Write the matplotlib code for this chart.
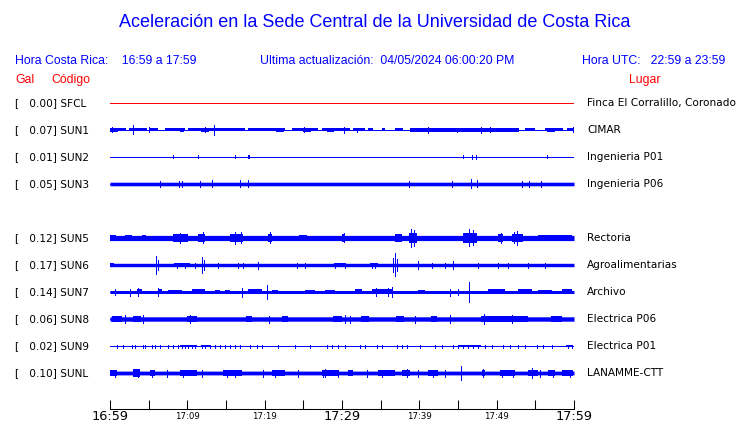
import numpy as np
import matplotlib
matplotlib.use("Agg")
import matplotlib.pyplot as plt
from matplotlib.transforms import blended_transform_factory

# estaciones (SUN4 no reporta, deja el hueco)
slots = ["SFCL", "SUN1", "SUN2", "SUN3", "SUN4", "SUN5", "SUN6", "SUN7", "SUN8", "SUN9", "SUNL"]
codes = ["SFCL", "SUN1", "SUN2", "SUN3", "SUN5", "SUN6", "SUN7", "SUN8", "SUN9", "SUNL"]
gal = [0.00, 0.07, 0.01, 0.05, 0.12, 0.17, 0.14, 0.06, 0.02, 0.10]
places = ["Finca El Corralillo, Coronado", "CIMAR", "Ingenieria P01", "Ingenieria P06",
          "Rectoria", "Agroalimentarias", "Archivo", "Electrica P06", "Electrica P01",
          "LANAMME-CTT"]

# envolventes (minutos desde 16:59, amplitud en px de pantalla)
base = {"SFCL": 0, "SUN1": 1.5, "SUN2": 0, "SUN3": 1.8, "SUN5": 2.6, "SUN6": 1.7,
        "SUN7": 1.5, "SUN8": 2.2, "SUN9": 0, "SUNL": 1.9}

gaps = {
    "SUN1": [(2.07, 2.46), (4.74, 5.17), (6.25, 7.03), (9.70, 10.13), (17.46, 17.80),
             (22.63, 23.49), (26.94, 27.37), (31.03, 31.47), (32.97, 33.41), (34.05, 35.13),
             (35.56, 36.85), (37.93, 38.79), (52.80, 53.66), (54.96, 56.25), (58.62, 59.05)],
}

bursts = {
    "SUN1": [(0, 1.0, 1.9), (9.0, 9.6, 1.9), (11.8, 12.8, 2.1), (21.5, 22.5, 1.9), (25.0, 26.0, 2.1),
             (28.0, 29.0, 1.9), (41.0, 42.0, 1.9), (43.0, 45.5, 1.9), (49.0, 50.0, 2.1), (56.5, 57.5, 1.9)],
    "SUN5": [(0, 0.8, 3.2), (2.0, 2.8, 3.2), (4.2, 4.6, 3.2), (8.19, 10.13, 3.6), (11.42, 12.28, 3.8),
             (15.52, 17.24, 4.2), (20.47, 20.91, 3.6), (24.5, 25.5, 3.2), (29.96, 30.39, 3.6),
             (36.85, 37.72, 3.6), (38.66, 39.66, 5.0), (45.69, 47.41, 4.6), (50.22, 50.86, 3.8),
             (51.94, 53.45, 3.6), (55.39, 59.70, 3.2)],
    "SUN6": [(0, 0.5, 2.2), (8.3, 10.3, 2.2), (29.0, 30.5, 2.2), (33.6, 34.6, 2.2)],
    "SUN7": [(3.45, 4.10, 2.5), (6.25, 6.68, 2.5), (7.54, 9.27, 2.3), (10.56, 12.28, 2.5),
             (13.58, 14.22, 2.3), (14.87, 15.52, 2.3), (17.89, 19.61, 2.5), (20.91, 21.77, 2.3),
             (25.22, 26.51, 2.3), (27.80, 29.09, 2.3), (31.68, 32.54, 2.5), (33.84, 36.42, 2.5),
             (39.87, 40.73, 2.3), (48.92, 51.08, 2.5), (52.80, 54.53, 2.5), (55.39, 57.11, 2.3),
             (58.41, 59.70, 2.5)],
    "SUN8": [(0.3, 1.5, 2.8), (3.0, 4.0, 3.0), (9.91, 11.21, 3.3), (17.6, 18.3, 2.7), (22.2, 23.0, 2.7),
             (28.8, 30.0, 3.0), (32.5, 33.5, 2.7), (37.0, 38.0, 2.7), (41.5, 42.3, 2.7),
             (48.0, 54.0, 2.8), (57.0, 58.5, 2.7)],
    "SUN9": [(9.0, 11.2, 1.2), (11.8, 13.0, 1.2), (45.0, 48.0, 1.2), (59.0, 59.8, 1.2)],
    "SUNL": [(0, 0.9, 2.6), (3.0, 3.88, 3.6), (5.17, 5.82, 2.6), (9.05, 11.21, 2.6), (14.66, 17.03, 2.6),
             (20.91, 22.63, 2.6), (27.37, 29.53, 2.6), (30.82, 31.47, 2.6), (34.70, 36.85, 2.6),
             (37.72, 38.79, 2.6), (41.16, 42.46, 2.6), (48.06, 48.49, 3.0), (50.43, 52.37, 2.6),
             (54.09, 55.39, 2.6), (56.68, 57.54, 2.6), (58.41, 59.92, 2.6)],
}

spikes = {
    "SUN1": [(0.22, 2.5), (3.02, 4.5), (5.0, 2.5), (12.3, 2.5), (13.49, 5.0), (25.04, 2.5), (30.26, 3.2),
             (32.0, 2.0), (41.08, 2.8), (44.83, 2.2), (47.93, 3.2), (49.14, 2.5), (59.83, 2.5)],
    "SUN2": [(8.19, 1.5), (11.42, 1.5), (16.21, 1.5), (17.80, 1.5), (18.02, 1.5), (45.69, 1.5),
             (46.77, 2.0), (47.33, 2.0), (56.55, 1.5)],
    "SUN3": [(6.51, 3.0), (8.92, 3.0), (9.35, 3.0), (11.60, 3.0), (13.23, 3.5), (16.85, 3.5), (17.89, 3.5),
             (38.71, 3.0), (44.18, 3.0), (46.68, 4.5), (47.41, 3.5), (53.23, 3.0), (54.22, 3.0), (55.69, 3.0)],
    "SUN5": [(9.0, 5.0), (12.0, 5.5), (16.2, 6.0), (17.0, 5.5), (20.7, 5.5), (30.2, 4.5), (38.9, 9.3),
             (39.3, 8.0), (46.4, 8.5), (46.9, 7.5), (50.5, 5.0), (52.3, 5.5), (52.6, 7.0)],
    "SUN6": [(5.95, 9.0), (6.2, 5.0), (11.94, 8.0), (12.2, 5.0), (36.6, 7.0), (36.85, 11.5), (37.1, 6.0),
             (19.18, 3.5), (39.87, 4.0), (44.40, 4.0), (8.62, 2.5), (9.70, 2.5), (10.99, 2.5),
             (13.92, 2.5), (16.59, 2.5), (17.24, 2.5), (24.14, 2.5), (25.22, 2.5), (29.09, 2.5),
             (30.39, 2.5), (33.84, 2.5), (34.27, 2.5), (41.59, 2.5), (43.32, 2.5), (47.63, 2.5),
             (50.22, 2.5), (51.51, 2.5), (54.09, 2.5), (56.25, 2.5)],
    "SUN7": [(20.26, 7.0), (46.42, 10.0), (0.65, 3.0), (2.59, 3.5), (3.6, 4.0), (6.25, 4.0), (17.03, 4.5),
             (35.99, 4.0), (36.42, 5.0), (43.97, 3.5), (45.0, 3.0), (34.4, 4.0)],
    "SUN8": [(4.31, 4.5), (10.3, 4.2), (30.39, 4.0), (48.36, 5.0), (2.0, 4.0), (20.5, 3.5), (31.0, 3.5),
             (39.5, 3.5), (44.0, 3.8), (52.0, 4.0)],
    "SUN9": [(t, 1.5) for t in [0.86, 1.72, 2.80, 3.23, 4.31, 4.53, 5.39, 5.82, 6.47, 7.54, 8.19, 8.84,
                                9.27, 9.70, 10.13, 10.56, 10.99, 11.85, 12.28, 12.93, 13.58, 14.22, 14.87,
                                15.52, 16.16, 16.81, 18.11, 18.97, 19.61, 21.77, 23.92, 25.86, 28.02,
                                28.66, 29.53, 30.39, 32.33, 32.97, 34.48, 35.13, 37.07, 37.72, 38.36,
                                40.09, 42.03, 42.89, 44.40, 45.04, 45.69, 46.34, 46.98, 47.63, 48.49,
                                49.35, 50.86, 51.72, 52.80, 53.66, 55.17, 56.03, 57.11, 59.27, 59.70]],
    "SUNL": [(45.39, 7.3), (54.53, 5.0), (38.45, 4.0), (48.19, 4.0), (3.56, 4.5), (27.8, 4.0),
             (0.65, 3.5), (5.39, 3.5), (7.33, 3.5), (9.48, 3.5), (11.85, 3.5), (15.09, 3.5), (16.16, 3.5),
             (19.83, 3.5), (21.34, 3.5), (24.35, 3.5), (27.59, 3.5), (29.53, 3.5), (33.19, 3.5),
             (35.13, 3.5), (39.87, 3.5), (41.81, 3.5), (43.32, 3.5), (50.65, 3.5), (52.16, 3.5),
             (55.60, 3.5), (57.33, 3.5), (59.49, 3.5)],
}

tick_min = list(range(0, 61, 5))
tick_txt = {0: "16:59", 10: "17:09", 20: "17:19", 30: "17:29", 40: "17:39", 50: "17:49", 60: "17:59"}
big_ticks = [0, 30, 60]

BLUE = "#0000ff"
RED = "#ff0000"
W, H = 740, 423
PX = 1 / 27.0  # un px de pantalla en unidades de fila

fig = plt.figure(figsize=(W / 100, H / 100), dpi=100)
ax = fig.add_axes([110 / W, 1 - 409 / H, 464 / W, (409 - 89.5) / H])
ax.set_xlim(0, 60)
ax.set_ylim(10 + 36 / 27, -0.5)

tg = np.linspace(0, 60, 2401)
for code in codes:
    row = slots.index(code)
    col = RED if code == "SFCL" else BLUE
    ax.plot([0, 60], [row, row], color=col, lw=0.55, antialiased=False)
    b = base[code]
    if b > 0:
        mask = np.ones_like(tg, dtype=bool)
        for g0, g1 in gaps.get(code, []):
            mask &= ~((tg > g0) & (tg < g1))
        ax.fill_between(tg, row - b * PX, row + b * PX, where=mask, color=col, lw=0,
                        antialiased=False)
    for t0, t1, a in bursts.get(code, []):
        ax.fill_between([t0, t1], row - a * PX, row + a * PX, color=col, lw=0, antialiased=False)
    sp = spikes.get(code, [])
    if sp:
        ts = [s[0] for s in sp]
        amp = np.array([s[1] for s in sp]) * PX
        ax.vlines(ts, row - amp, row + amp, color=col, lw=0.6, antialiased=False)

for s in ["top", "left", "right"]:
    ax.spines[s].set_visible(False)
ax.spines["bottom"].set_linewidth(0.75)
ax.set_yticks([])
ax.set_xticks(tick_min)
ax.set_xticklabels([])
ax.tick_params(axis="x", direction="in", length=6.5, width=0.75)

# etiquetas de hora bajo el eje
trx = blended_transform_factory(ax.transData, fig.transFigure)
for m in tick_min:
    if m in tick_txt:
        big = m in big_ticks
        ax.text(m, 1 - (419.8 if big else 418.6) / H, tick_txt[m], transform=trx,
                ha="center", va="baseline", fontsize=9.3 if big else 6.2,
                family="DejaVu Sans", clip_on=False)

# textos
fig.text(375 / W, 1 - 22.5 / H, "Aceleración en la Sede Central de la Universidad de Costa Rica",
         ha="center", va="center", color=BLUE, fontsize=13, family="Liberation Sans")
hdr = dict(va="center", color=BLUE, fontsize=8.8, family="Liberation Sans")
fig.text(15 / W, 1 - 61 / H, "Hora Costa Rica:    16:59 a 17:59", ha="left", **hdr)
fig.text(260 / W, 1 - 61 / H, "Ultima actualización:  04/05/2024 06:00:20 PM", ha="left", **hdr)
fig.text(725 / W, 1 - 61 / H, "Hora UTC:   22:59 a 23:59", ha="right", **hdr)
red = dict(va="center", color=RED, fontsize=8.8, family="Liberation Sans")
fig.text(15 / W, 1 - 80 / H, "Gal", ha="left", **red)
fig.text(51 / W, 1 - 80 / H, "Código", ha="left", **red)
fig.text(629 / W, 1 - 80 / H, "Lugar", ha="left", **red)

tr = blended_transform_factory(fig.transFigure, ax.transData)
for code, g, place in zip(codes, gal, places):
    row = slots.index(code)
    ax.text(15 / W, row, "[   %.2f] %s" % (g, code), transform=tr, va="center", ha="left",
            fontsize=7.6, family="DejaVu Sans", clip_on=False)
    ax.text(587 / W, row, place, transform=tr, va="center", ha="left",
            fontsize=7.6, family="DejaVu Sans", clip_on=False)

fig.savefig("out.png", dpi=100)
